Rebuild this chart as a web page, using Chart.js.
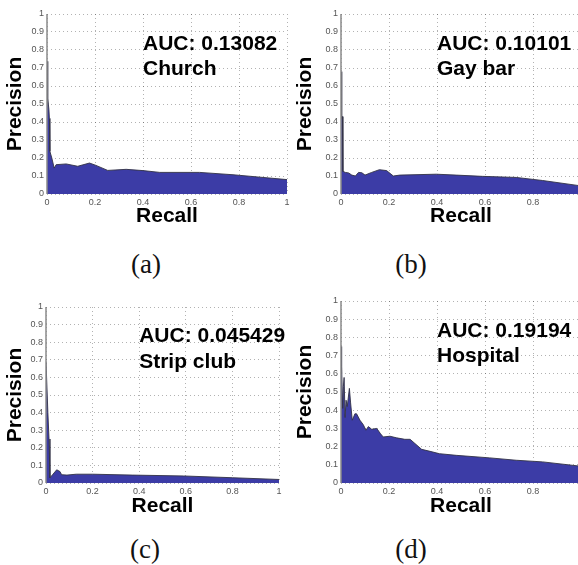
<!DOCTYPE html>
<html>
<head>
<meta charset="utf-8">
<script src="https://cdn.jsdelivr.net/npm/chart.js@4.4.0/dist/chart.umd.min.js"></script>
<style>
  html, body { margin: 0; padding: 0; background: #fff; overflow: hidden; }
  body { width: 578px; height: 565px; position: relative; }
  canvas { position: absolute; }
  .cap { position: absolute; font-family: "Liberation Serif", "DejaVu Serif", serif; font-size: 27px; color: #111; transform: translate(-50%, -50%); }
</style>
</head>
<body>
<canvas id="pa" width="295" height="230" style="left:0;top:0"></canvas>
<canvas id="pb" width="300" height="230" style="left:290px;top:0"></canvas>
<canvas id="pc" width="295" height="230" style="left:0;top:290px"></canvas>
<canvas id="pd" width="300" height="230" style="left:290px;top:290px"></canvas>
<div class="cap" style="left:146px;top:264px">(a)</div>
<div class="cap" style="left:411px;top:264px">(b)</div>
<div class="cap" style="left:145px;top:549px">(c)</div>
<div class="cap" style="left:411px;top:549px">(d)</div>
<script>
// Precision-recall curves
const recallA = [0, 0.002, 0.004, 0.008, 0.01, 0.012, 0.02, 0.03, 0.038, 0.08, 0.128, 0.177, 0.204, 0.253, 0.33, 0.4, 0.47, 0.636, 0.775, 0.9, 1.0];
const precisionA = [0.5, 0.737, 0.53, 0.47, 0.42, 0.237, 0.2, 0.144, 0.163, 0.167, 0.154, 0.172, 0.159, 0.131, 0.137, 0.13, 0.12, 0.12, 0.107, 0.092, 0.08];

const recallB = [0, 0.002, 0.004, 0.006, 0.008, 0.018, 0.032, 0.045, 0.06, 0.073, 0.087, 0.1, 0.128, 0.16, 0.19, 0.218, 0.245, 0.397, 0.48, 0.59, 0.73, 0.84, 1.0];
const precisionB = [0.42, 0.68, 0.42, 0.43, 0.126, 0.12, 0.117, 0.105, 0.1, 0.12, 0.118, 0.105, 0.12, 0.135, 0.13, 0.1, 0.105, 0.11, 0.105, 0.098, 0.092, 0.075, 0.045];

const recallC = [0, 0.002, 0.008, 0.013, 0.017, 0.03, 0.046, 0.06, 0.067, 0.09, 0.13, 0.2, 0.37, 0.59, 0.8, 1.0];
const precisionC = [0.69, 0.69, 0.4, 0.25, 0.03, 0.05, 0.075, 0.065, 0.047, 0.045, 0.05, 0.05, 0.045, 0.04, 0.03, 0.02];

const recallD = [0, 0.001, 0.004, 0.007, 0.01, 0.013, 0.017, 0.021, 0.026, 0.035, 0.04, 0.047, 0.058, 0.065, 0.079, 0.093, 0.104, 0.114, 0.128, 0.149, 0.165, 0.176, 0.204, 0.232, 0.266, 0.288, 0.308, 0.336, 0.371, 0.41, 0.48, 0.62, 0.73, 0.84, 1.0];
const precisionD = [0.6, 0.75, 0.64, 0.41, 0.53, 0.58, 0.36, 0.455, 0.42, 0.52, 0.44, 0.345, 0.38, 0.38, 0.345, 0.32, 0.29, 0.31, 0.295, 0.30, 0.27, 0.253, 0.257, 0.248, 0.24, 0.24, 0.217, 0.185, 0.174, 0.161, 0.152, 0.138, 0.125, 0.116, 0.092];

const aucLabels = ['AUC: 0.13082', 'AUC: 0.10101', 'AUC: 0.045429', 'AUC: 0.19194'];
const placeNames = ['Church', 'Gay bar', 'Strip club', 'Hospital'];
const xTicks = [0, 0.2, 0.4, 0.6, 0.8, 1];
const yTicks = [0, 0.1, 0.2, 0.3, 0.4, 0.5, 0.6, 0.7, 0.8, 0.9, 1];

// draws the AUC / place text inside the plot, plus the solid left axis line
const annotate = {
  id: 'annotate',
  afterDatasetsDraw(chart) {
    const o = chart.options.plugins.annotate;
    const ctx = chart.ctx;
    const area = chart.chartArea;
    ctx.save();
    ctx.strokeStyle = '#8a8a8a';
    ctx.lineWidth = 1.5;
    ctx.beginPath();
    ctx.moveTo(area.left, area.top);
    ctx.lineTo(area.left, area.bottom);
    ctx.stroke();
    const x = chart.scales.x.getPixelForValue(0.4);
    const top = chart.scales.y.getPixelForValue(0.885);
    ctx.fillStyle = '#000';
    ctx.font = 'bold 21px "Liberation Sans", Arial, sans-serif';
    ctx.textBaseline = 'alphabetic';
    ctx.fillText(o.auc, x, top + 15);
    ctx.fillText(o.name, x, top + 40.5);
    ctx.restore();
  }
};

const tickText = v => String(+v.toFixed(1));

function makeChart(id, recall, precision, auc, name, lay) {
  const pts = recall.map((r, i) => ({ x: r, y: precision[i] }));
  return new Chart(document.getElementById(id), {
    type: 'scatter',
    data: {
      datasets: [{
        data: pts,
        showLine: true,
        fill: 'origin',
        backgroundColor: '#3c3ca6',
        borderColor: 'rgba(50,50,70,0.9)',
        borderWidth: 1,
        pointRadius: 0,
        tension: 0
      }]
    },
    options: {
      responsive: false,
      animation: false,
      layout: { padding: { top: lay.top, right: lay.right, left: 0, bottom: 0 } },
      plugins: {
        legend: { display: false },
        tooltip: { enabled: false },
        annotate: { auc: auc, name: name }
      },
      scales: {
        x: {
          type: 'linear', min: 0, max: 1, z: 1,
          afterBuildTicks: s => { s.ticks = xTicks.map(v => ({ value: v })); },
          afterFit: s => { s.height = lay.xh; },
          grid: { color: 'rgba(0,0,0,0.3)', drawTicks: false, lineWidth: 1 },
          border: { display: false, dash: [1, 3] },
          ticks: { font: { size: 9, family: 'Liberation Sans' }, color: '#555', padding: 3, maxRotation: 0, callback: tickText },
          title: { display: true, text: 'Recall', font: { size: 21, weight: 'bold', family: 'Liberation Sans' }, color: '#000', padding: { top: 0, bottom: 1 } }
        },
        y: {
          type: 'linear', min: 0, max: 1, z: 1,
          afterBuildTicks: s => { s.ticks = yTicks.map(v => ({ value: v })); },
          afterFit: s => { s.width = lay.yw; },
          grid: { color: 'rgba(0,0,0,0.3)', drawTicks: false, lineWidth: 1 },
          border: { display: false, dash: [1, 3] },
          ticks: { font: { size: 9, family: 'Liberation Sans' }, color: '#555', padding: 3, callback: tickText },
          title: { display: true, text: 'Precision', font: { size: 21, weight: 'bold', family: 'Liberation Sans' }, color: '#000', padding: { top: 3, bottom: 0 } }
        }
      }
    },
    plugins: [annotate]
  });
}

makeChart('pa', recallA, precisionA, aucLabels[0], placeNames[0], { top: 14, right: 8, xh: 36, yw: 47 });
makeChart('pb', recallB, precisionB, aucLabels[1], placeNames[1], { top: 14, right: 9, xh: 36, yw: 51 });
makeChart('pc', recallC, precisionC, aucLabels[2], placeNames[2], { top: 17, right: 16, xh: 37, yw: 46 });
makeChart('pd', recallD, precisionD, aucLabels[3], placeNames[3], { top: 11, right: 9, xh: 37, yw: 51 });
</script>
</body>
</html>
